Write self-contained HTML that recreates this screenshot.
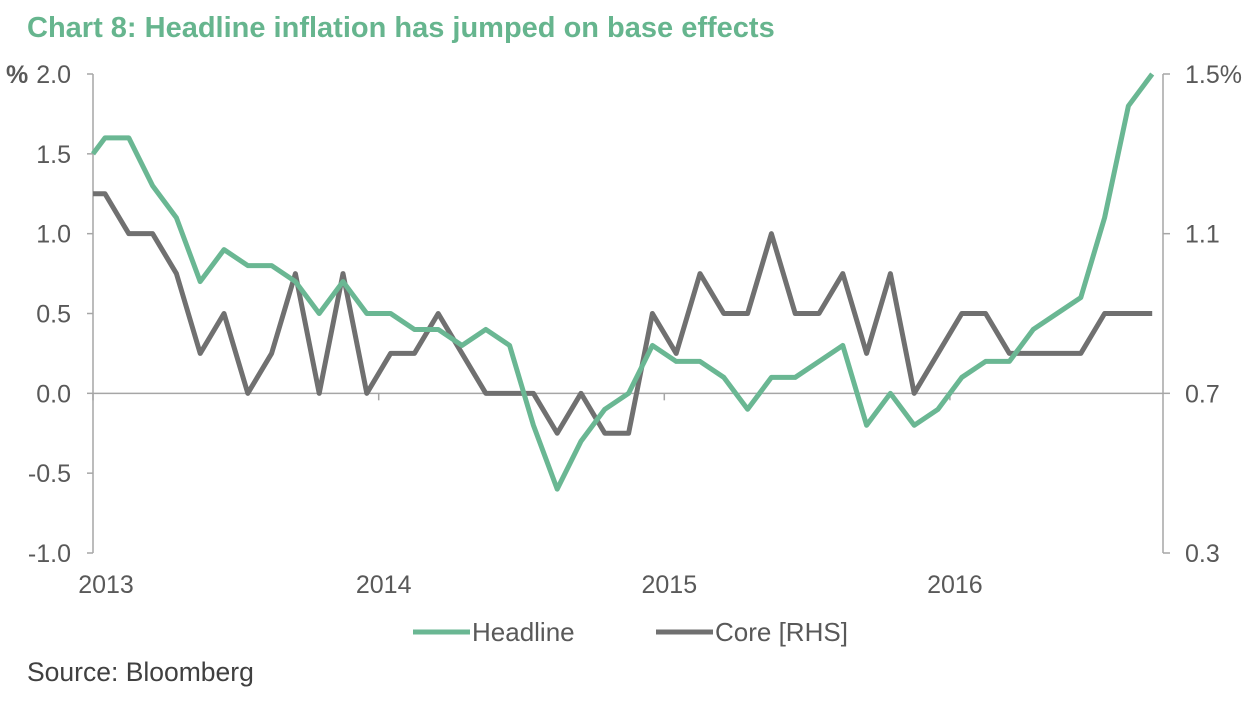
<!DOCTYPE html>
<html><head><meta charset="utf-8"><style>
body{margin:0;background:#fff;width:1259px;height:704px;overflow:hidden;font-family:"Liberation Sans",sans-serif}
</style></head><body>
<svg width="1259" height="704" font-family="Liberation Sans, sans-serif">
<text x="27" y="37" font-size="29" font-weight="bold" fill="#66b58e">Chart 8: Headline inflation has jumped on base effects</text>
<g id="axes"></g>
<g id="series"></g>
<g>
<line x1="413" y1="632" x2="470" y2="632" stroke="#6ab793" stroke-width="5"/>
<text x="472" y="641" font-size="26" fill="#595959">Headline</text>
<line x1="656" y1="632" x2="713" y2="632" stroke="#707070" stroke-width="5"/>
<text x="715" y="641" font-size="26" fill="#595959">Core [RHS]</text>
</g>
<text x="27" y="681" font-size="26.5" fill="#404040">Source: Bloomberg</text>
</svg>
<script>
const headline=[1.5,1.6,1.6,1.3,1.1,0.7,0.9,0.8,0.8,0.7,0.5,0.7,0.5,0.5,0.4,0.4,0.3,0.4,
0.3,-0.2,-0.6,-0.3,-0.1,0,0.3,0.2,0.2,0.1,-0.1,0.1,0.1,0.2,0.3,-0.2,0,-0.2,
-0.1,0.1,0.2,0.2,0.4,0.5,0.6,1.1,1.8,2.0];
const core=[1.2,1.2,1.1,1.1,1.0,0.8,0.9,0.7,0.8,1.0,0.7,1.0,0.7,0.8,0.8,0.9,0.8,0.7,
0.7,0.7,0.6,0.7,0.6,0.6,0.9,0.8,1.0,0.9,0.9,1.1,0.9,0.9,1.0,0.8,1.0,0.7,
0.8,0.9,0.9,0.8,0.8,0.8,0.8,0.9,0.9,0.9];
const leftTicks=["2.0","1.5","1.0","0.5","0.0","-0.5","-1.0"];
const rightTicks=["1.5%","1.1","0.7","0.3"];
const yearLabels=["2013","2014","2015","2016"];
const yearIdx=[0,12,24,36];

const NS="http://www.w3.org/2000/svg";
const L=93,R=1163,T=74,B=553,step=23.8;
const xI=i=>i===0?L:105+step*(i-1);
const yL=v=>T+(2-v)*(B-T)/3;
const yR=v=>T+(1.5-v)*(B-T)/1.2;
function mk(tag,attrs,parent){const e=document.createElementNS(NS,tag);for(const k in attrs)e.setAttribute(k,attrs[k]);parent.appendChild(e);return e;}
const ax=document.getElementById('axes'),sr=document.getElementById('series');
let e;
e=mk('line',{x1:L,y1:T,x2:L,y2:B,stroke:'#a6a6a6','stroke-width':1.5},ax);


e=mk('line',{x1:R,y1:T,x2:R,y2:B,stroke:'#a6a6a6','stroke-width':1.5},ax);


e=mk('line',{x1:L,y1:yL(0),x2:R,y2:yL(0),stroke:'#a6a6a6','stroke-width':1.5},ax);


leftTicks.forEach(t=>{const y=yL(parseFloat(t));
 mk('line',{x1:L-6,y1:y,x2:L,y2:y,stroke:'#a6a6a6','stroke-width':1.5},ax);
 e=mk('text',{x:71,y:y+9,'font-size':25,fill:'#595959','text-anchor':'end'},ax);e.textContent=t;
 
 });
e=mk('text',{x:6,y:yL(2)+9,'font-size':25,'font-weight':'bold',fill:'#595959'},ax);e.textContent='%';


rightTicks.forEach(t=>{const y=yR(parseFloat(t));
 mk('line',{x1:R,y1:y,x2:R+7,y2:y,stroke:'#a6a6a6','stroke-width':1.5},ax);
 e=mk('text',{x:1185,y:y+9,'font-size':25,fill:'#595959'},ax);e.textContent=t;
 
 });
yearLabels.forEach((t,k)=>{const x=k===0?L:xI(yearIdx[k])+11.9;
 mk('line',{x1:x,y1:yL(0),x2:x,y2:yL(0)+7,stroke:'#a6a6a6','stroke-width':1.5},ax);
 e=mk('text',{x:k===0?106:x+5,y:593,'font-size':25,fill:'#595959','text-anchor':'middle'},ax);e.textContent=t;
 
 });
e=mk('polyline',{points:core.map((v,i)=>xI(i)+','+yR(v)).join(' '),fill:'none',stroke:'#707070','stroke-width':5,'stroke-linejoin':'round'},sr);


e=mk('polyline',{points:headline.map((v,i)=>xI(i)+','+yL(v)).join(' '),fill:'none',stroke:'#6ab793','stroke-width':5,'stroke-linejoin':'round'},sr);


</script>
</body></html>
